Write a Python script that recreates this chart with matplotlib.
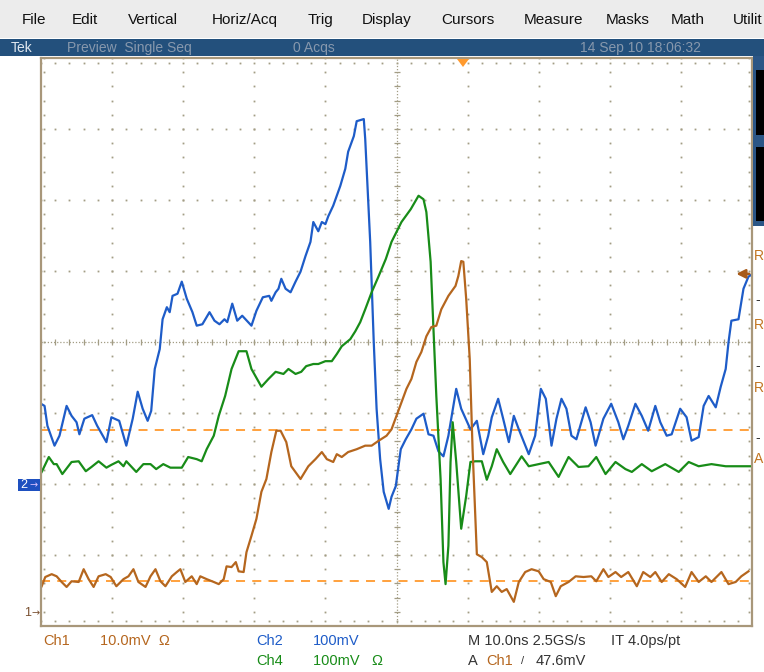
import numpy as np
import matplotlib.pyplot as plt
from matplotlib.patches import Rectangle, Polygon

W, H = 764, 672

# scope settings: 10 ns/div, 10 divisions across, 8 down
ch1_scale, ch1_gnd = 10.0, -3.8     # mV/div, ground marker position (div)
ch2_scale, ch2_gnd = 100.0, -2.0
ch4_scale, ch4_gnd = 100.0, -2.0
trig_mv = 47.6                      # Ch1 trigger level
cursor_mv = [25.6, 4.3]             # horizontal bar cursors on Ch1

# Ch2 (blue)
ch2_t = [-50.0, -49.5, -49.1, -48.1, -47.4, -46.4, -45.7, -45.0, -44.6, -43.9,
         -42.8, -42.1, -40.8, -40.1, -39.0, -38.0, -37.1, -36.4, -35.7, -35.0,
         -34.5, -34.0, -33.3, -32.9, -32.3, -31.9, -31.5, -30.8, -30.2, -29.5,
         -28.7, -28.1, -27.3, -26.3, -25.6, -24.9, -24.2, -23.8, -23.1, -22.4,
         -21.7, -20.4, -19.7, -18.8, -17.9, -17.6, -17.0, -16.6, -16.2, -15.6,
         -14.9, -14.2, -13.5, -12.8, -12.1, -11.7, -11.0, -10.5, -10.0, -9.6,
         -8.9, -8.4, -7.9, -7.2, -6.8, -6.0, -5.6, -4.6, -4.4, -4.2,
         -3.7, -3.2, -2.8, -2.3, -1.8, -1.1, -0.7, -0.1, 0.6, 1.3,
         2.1, 2.8, 3.8, 4.5, 5.2, 5.9, 6.6, 7.3, 8.4, 9.1,
         10.4, 11.3, 12.2, 12.9, 13.4, 14.3, 15.0, 15.8, 16.5, 17.2,
         18.6, 19.5, 20.3, 21.0, 21.8, 22.5, 23.2, 23.9, 24.6, 25.3,
         26.6, 27.3, 28.0, 29.1, 30.2, 31.2, 31.9, 32.6, 33.6, 34.5,
         35.4, 36.4, 37.1, 38.0, 38.7, 39.9, 40.8, 41.5, 42.5, 43.2,
         43.9, 44.9, 45.6, 46.3, 46.7, 47.1, 48.1, 48.8, 49.5, 49.8]
ch2_mv = [113, 110, 82, 54, 68, 110, 96, 87, 70, 92,
          97, 82, 59, 94, 89, 54, 92, 130, 106, 89,
          103, 162, 190, 232, 249, 242, 265, 268, 285, 261,
          242, 223, 225, 242, 230, 225, 232, 228, 254, 230,
          237, 223, 244, 263, 265, 258, 270, 275, 289, 275,
          270, 285, 299, 321, 341, 369, 356, 369, 366, 377,
          392, 406, 420, 444, 468, 490, 511, 514, 486, 444,
          341, 200, 106, 35, -11, -35, -18, -3, 49, 63,
          77, 92, 99, 70, 68, 46, 39, 68, 134, 106,
          77, 89, 42, 68, 94, 120, 92, 59, 96, 77,
          42, 68, 134, 120, 54, 92, 120, 106, 68, 63,
          108, 87, 54, 92, 113, 87, 63, 82, 113, 96,
          75, 110, 87, 68, 70, 106, 94, 61, 66, 110,
          124, 108, 137, 162, 200, 230, 232, 275, 292, 294]

# Ch4 (green)
ch4_t = [-49.9, -48.9, -48.2, -47.8, -47.0, -45.7, -44.7, -43.7, -42.9, -41.9,
         -40.8, -40.1, -39.1, -38.4, -38.0, -36.6, -35.6, -34.6, -33.8, -32.8,
         -31.8, -30.2, -29.3, -28.1, -27.4, -26.7, -25.7, -25.0, -24.1, -23.2,
         -22.2, -21.1, -20.4, -19.0, -18.0, -17.0, -15.9, -15.2, -14.2, -13.4,
         -12.7, -11.7, -11.0, -10.0, -9.1, -8.4, -7.7, -6.5, -5.8, -5.1,
         -4.4, -3.5, -2.5, -1.5, -0.7, 0.7, 2.0, 3.1,
         3.8, 4.2, 4.8, 5.2, 5.6, 6.2, 6.6, 6.9, 7.3, 7.6, 7.9, 8.4, 9.1, 9.8, 10.4,
         11.1, 12.0, 12.7, 13.4, 14.1, 15.0, 16.0, 17.6, 18.6, 20.0,
         21.4, 22.8, 24.2, 25.6, 27.0, 28.1, 29.4, 30.8, 32.2, 33.1,
         34.5, 35.9, 37.8, 39.7, 41.1, 42.5, 44.3, 46.3, 48.1, 49.8]
ch4_mv = [17, 38, 28, 28, 14, 31, 32, 18, 24, 32,
          23, 27, 32, 25, 32, 17, 28, 28, 21, 28,
          23, 23, 38, 35, 32, 49, 68, 96, 124, 162,
          187, 187, 162, 137, 148, 158, 155, 162, 155, 158,
          166, 169, 169, 173, 173, 183, 194, 204, 215, 228,
          246, 270, 293, 317, 341, 369, 387, 406,
          401, 383, 313, 218, 124, 7, -110, -141, -87, 31, 87, 31, -63, -17, 31,
          32, 32, 6, 25, 49, 31, 14, 39, 25, 28,
          31, 10, 38, 24, 25, 38, 14, 31, 21, 17,
          28, 18, 28, 17, 31, 25, 28, 25, 25, 25]

# Ch1 (orange-brown)
ch1_t = [-49.9, -49.4, -48.5, -47.8, -47.1, -46.4, -45.7, -44.7, -44.0, -43.3,
         -42.6, -41.9, -40.9, -40.2, -39.4, -38.4, -37.7, -37.0, -36.3, -35.3,
         -34.6, -33.9, -33.2, -32.5, -31.6, -30.9, -30.4, -29.7, -28.8, -28.1,
         -27.6, -26.7, -25.7, -25.0, -24.3, -23.9, -23.2, -22.6, -22.2, -21.5,
         -21.1, -20.4, -19.7, -19.0, -18.3, -17.6, -16.9, -16.3, -15.5, -14.8,
         -13.5, -12.4, -11.4, -10.5, -9.8, -8.9, -8.4, -7.7, -6.8, -5.6,
         -4.4, -3.5, -2.5, -1.4, -0.7, 0.0, 0.7, 1.4, 2.1, 2.8,
         3.5, 4.2, 4.9, 5.6, 6.3, 7.3, 8.3, 8.7, 9.1, 9.4,
         9.8, 10.3, 10.7, 11.3,
         12.0, 12.7, 13.4, 14.1, 14.8, 15.5, 16.5, 17.2, 18.1, 19.0,
         20.0, 20.7, 21.7, 22.4, 23.1, 24.2, 25.2, 26.3, 27.4, 28.1,
         29.1, 29.8, 30.8, 31.6, 32.6, 33.8, 34.7, 35.7, 36.4, 37.3,
         38.3, 39.4, 40.6, 41.5, 42.5, 43.5, 44.3, 45.7, 46.7, 47.7,
         48.5, 49.5]
ch1_mv = [3.6, 4.9, 5.3, 5.0, 4.2, 3.5, 4.3, 4.2, 6.0, 4.6,
          3.5, 5.0, 5.3, 4.9, 3.6, 4.6, 5.0, 6.0, 4.2, 3.5,
          5.0, 6.0, 4.3, 3.6, 5.0, 5.6, 6.0, 4.2, 5.0, 3.9,
          5.0, 4.6, 4.2, 3.9, 4.6, 6.4, 6.3, 7.0, 5.7, 5.6,
          8.4, 10.7, 13.1, 16.9, 18.7, 22.5, 25.5, 25.5, 23.9, 20.5,
          18.7, 20.5, 21.5, 22.5, 21.5, 21.1, 22.2, 21.8, 22.5, 22.9,
          23.4, 23.4, 24.1, 24.8, 25.7, 27.6, 29.5, 31.4, 32.8, 35.2,
          36.6, 38.8, 40.1, 40.3, 42.6, 44.5, 45.9, 47.3, 49.4, 49.3,
          44.1, 35.6, 22.9, 8.1,
          7.7, 7.0, 2.8, 3.6, 2.8, 3.2, 1.4, 4.2, 5.6, 6.0,
          5.7, 4.6, 4.2, 2.2, 3.6, 4.2, 5.0, 4.9, 5.0, 4.3,
          6.0, 4.9, 5.6, 4.9, 5.6, 3.6, 5.6, 4.9, 5.6, 4.2,
          5.3, 4.6, 3.5, 5.6, 4.2, 5.0, 4.2, 5.6, 3.9, 4.2,
          5.0, 5.7]

BLUE = '#1e5cc8'
GREEN = '#188c18'
BROWN = '#b5661e'
CURSOR = '#ff9a2e'
GRID = '#a39d85'
FRAME = '#a8977a'
FONT = ['Liberation Sans', 'DejaVu Sans']


def fx(x):
    return x / W


def fy(y):
    return 1 - y / H


def to_div(mv, scale, gnd):
    return np.asarray(mv, dtype=float) / scale + gnd


fig = plt.figure(figsize=(W / 100, H / 100), dpi=100)
fig.patch.set_facecolor('white')

# menu bar and status bar
fig.add_artist(Rectangle((0, fy(38)), 1, 38 / H, transform=fig.transFigure,
                         facecolor='#ececec', edgecolor='none'))
fig.add_artist(Rectangle((0, fy(56)), 1, 17 / H, transform=fig.transFigure,
                         facecolor='#23507c', edgecolor='none'))
menu = ['File', 'Edit', 'Vertical', 'Horiz/Acq', 'Trig', 'Display', 'Cursors',
        'Measure', 'Masks', 'Math', 'Utilit']
menu_x = [22, 72, 128, 212, 308, 362, 441, 524, 606, 671, 733]
for s, x in zip(menu, menu_x):
    fig.text(fx(x), fy(20), s, fontsize=11, color='#111111', family=FONT, va='center')
fig.text(fx(11), fy(48), 'Tek', fontsize=10, color='#e0e8f0', family=FONT, va='center')
for s, x in zip(['Preview  Single Seq', '0 Acqs', '14 Sep 10 18:06:32'], [67, 293, 580]):
    fig.text(fx(x), fy(48), s, fontsize=10, color='#8798ad', family=FONT, va='center')

# right-hand side panel (cut off by the screenshot edge)
fig.add_artist(Rectangle((fx(753), fy(226)), 11 / W, 170 / H, transform=fig.transFigure,
                         facecolor='#2b5686', edgecolor='none'))
for y0, y1 in [(70, 135), (147, 221)]:
    fig.add_artist(Rectangle((fx(756), fy(y1)), 8 / W, (y1 - y0) / H,
                             transform=fig.transFigure, facecolor='black', edgecolor='none'))
for s, y in [('R', 256), ('R', 325), ('R', 388), ('A', 459)]:
    fig.text(fx(754), fy(y), s, fontsize=10, color='#c2741f', family=FONT, va='center')
for y in [300, 366, 438]:
    fig.text(fx(755), fy(y), '-', fontsize=10, color='#333333', family=FONT, va='center')

# graticule
ax = fig.add_axes([fx(41), fy(626), 711 / W, 568 / H])
ax.set_xlim(-50, 50)
ax.set_ylim(-4, 4)
ax.set_xticks([])
ax.set_yticks([])
for sp in ax.spines.values():
    sp.set_color(FRAME)
    sp.set_linewidth(1.6)

x_major = np.arange(-40, 41, 10)
y_major = np.arange(-3, 4, 1)
x_minor = np.arange(-50, 50.1, 2)
y_minor = np.arange(-4, 4.01, 0.2)
mx, my = np.meshgrid(x_major[x_major != 0], y_minor)
ax.plot(mx.ravel(), my.ravel(), ls='none', marker='s', ms=1.3, mew=0, color=GRID)
mx, my = np.meshgrid(x_minor, y_major[y_major != 0])
ax.plot(mx.ravel(), my.ravel(), ls='none', marker='s', ms=1.3, mew=0, color=GRID)
# centre cross with tick marks
ax.axhline(0, color=GRID, lw=0.9, ls=(0, (1, 1.5)))
ax.axvline(0, color=GRID, lw=0.9, ls=(0, (1, 1.5)))
ax.plot(x_minor, np.zeros_like(x_minor), ls='none', marker='|', ms=5, mew=0.9, color=GRID)
ax.plot(np.zeros_like(y_minor), y_minor, ls='none', marker='_', ms=5, mew=0.9, color=GRID)
# edge ticks
for xe in (-49.6, 49.6):
    ax.plot(np.full_like(y_minor, xe), y_minor, ls='none', marker='s', ms=1.3, mew=0, color=GRID)
for ye in (-3.93, 3.93):
    ax.plot(x_minor, np.full_like(x_minor, ye), ls='none', marker='s', ms=1.3, mew=0, color=GRID)

# cursors
for c in cursor_mv:
    ax.axhline(c / ch1_scale + ch1_gnd, color=CURSOR, lw=1.3, ls=(0, (5, 4)))

# traces
ax.plot(ch2_t, to_div(ch2_mv, ch2_scale, ch2_gnd), color=BLUE, lw=1.6)
ax.plot(ch4_t, to_div(ch4_mv, ch4_scale, ch4_gnd), color=GREEN, lw=1.6)
ax.plot(ch1_t, to_div(ch1_mv, ch1_scale, ch1_gnd), color=BROWN, lw=1.6)

# trigger level arrow and trigger position marker
lvl = trig_mv / ch1_scale + ch1_gnd
ax.annotate('', xy=(47.4, lvl), xytext=(50, lvl),
            arrowprops=dict(arrowstyle='-|>', color='#a85a18', lw=1.8, mutation_scale=13),
            annotation_clip=False)
fig.add_artist(Polygon([[fx(457), fy(59)], [fx(469), fy(59)], [fx(463), fy(67)]],
                       closed=True, transform=fig.transFigure, facecolor=CURSOR, edgecolor='none'))

# channel ground markers
g24 = fy(343 + 71 * (-ch2_gnd))
fig.add_artist(Rectangle((fx(18), g24 - 6 / H), 22 / W, 12 / H, transform=fig.transFigure,
                         facecolor='#1e50c0', edgecolor='none'))
fig.text(fx(20), g24, '2', fontsize=9, color='white', family=FONT, va='center')
fig.text(fx(29), g24, '→', fontsize=7, color='#d8c0ff', family='DejaVu Sans', va='center')
g1 = fy(343 + 71 * (-ch1_gnd))
fig.text(fx(24), g1, '1', fontsize=9, color='#7a5030', family=FONT, va='center')
fig.text(fx(32), g1, '→', fontsize=7, color='#7a5030', family='DejaVu Sans', va='center')

# readout along the bottom
fs = 10.5
fig.text(fx(43), fy(641), 'Ch1', fontsize=fs, color=BROWN, family=FONT, va='center')
fig.text(fx(100), fy(641), '10.0mV  Ω', fontsize=fs, color=BROWN, family=FONT, va='center')
fig.text(fx(256), fy(641), 'Ch2', fontsize=fs, color=BLUE, family=FONT, va='center')
fig.text(fx(313), fy(641), '100mV', fontsize=fs, color=BLUE, family=FONT, va='center')
fig.text(fx(256), fy(661), 'Ch4', fontsize=fs, color=GREEN, family=FONT, va='center')
fig.text(fx(313), fy(661), '100mV   Ω', fontsize=fs, color=GREEN, family=FONT, va='center')
fig.text(fx(468), fy(641), 'M 10.0ns 2.5GS/s', fontsize=fs, color='#333333', family=FONT, va='center')
fig.text(fx(611), fy(641), 'IT 4.0ps/pt', fontsize=fs, color='#333333', family=FONT, va='center')
fig.text(fx(468), fy(661), 'A', fontsize=fs, color='#333333', family=FONT, va='center')
fig.text(fx(486), fy(661), 'Ch1', fontsize=fs, color=BROWN, family=FONT, va='center')
fig.text(fx(521), fy(661), '/', fontsize=8, color='#333333', family=FONT, va='center')
fig.text(fx(536), fy(661), '47.6mV', fontsize=fs, color='#333333', family=FONT, va='center')

fig.savefig('out.png', dpi=100)
